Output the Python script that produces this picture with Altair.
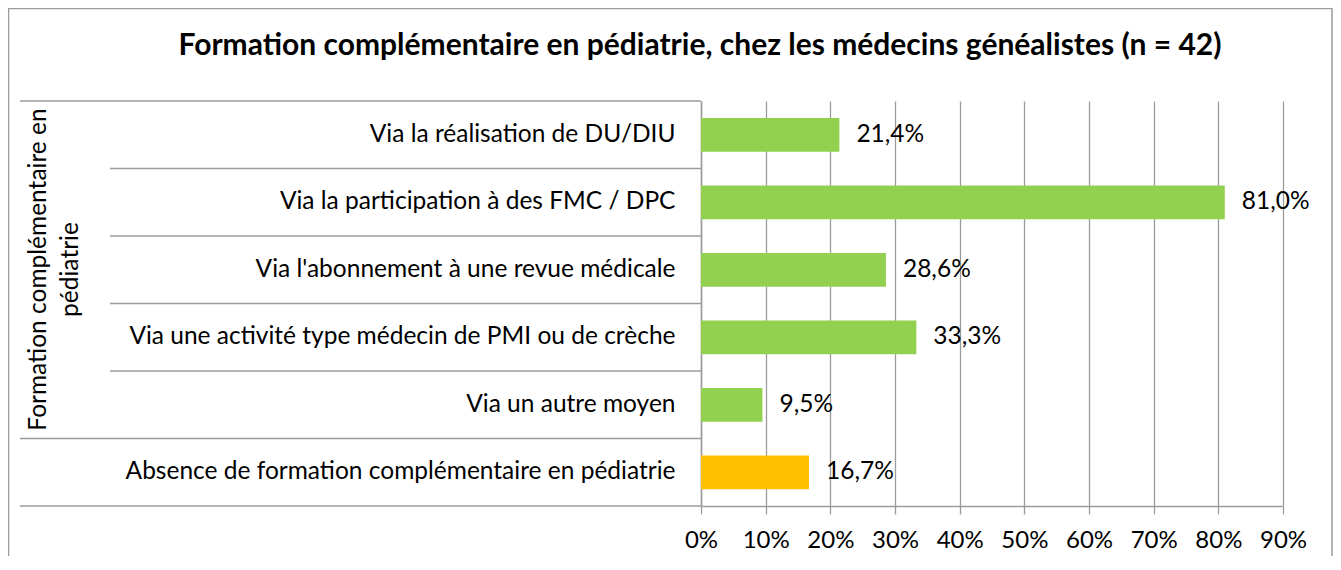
import altair as alt
import pandas as pd

# ---- data ----
categories = [
    "Via la réalisation de DU/DIU",
    "Via la participation à des FMC / DPC",
    "Via l'abonnement à une revue médicale",
    "Via une activité type médecin de PMI ou de crèche",
    "Via un autre moyen",
    "Absence de formation complémentaire en pédiatrie",
]
values = [21.4, 81.0, 28.6, 33.3, 9.5, 16.7]
groups = ["formation", "formation", "formation", "formation", "formation", "absence"]
group_label = ["Formation complémentaire en", "pédiatrie"]
x_ticks = [0, 10, 20, 30, 40, 50, 60, 70, 80, 90]
title_text = "Formation complémentaire en pédiatrie, chez les médecins généalistes (n = 42)"
outer_rows = [0, 5, 6]
inner_rows = [1, 2, 3, 4]

df = pd.DataFrame({"categorie": categories, "valeur": values, "groupe": groups})

FONT = "Lato"
FS = 24.5
GRAY = "#9C9C9C"
W, H = 582, 405

base = alt.Chart(df)

bars = base.mark_bar().encode(
    x=alt.X("valeur:Q",
            scale=alt.Scale(domain=[0, 90], nice=False),
            axis=alt.Axis(title="", values=x_ticks, labelExpr="datum.value + '%'",
                          grid=True, gridColor=GRAY, gridWidth=1.3, domainColor=GRAY,
                          domainWidth=1.5, tickColor=GRAY, tickWidth=1.3,
                          tickSize=8, labelFont=FONT, labelFontSize=24, labelColor="black",
                          labelPadding=26, labelBaseline="middle", labelFlush=False,
                          labelOverlap=False)),
    y=alt.Y("categorie:N", sort=categories,
            scale=alt.Scale(paddingInner=0.5, paddingOuter=0.25),
            axis=alt.Axis(title="", ticks=False, labelPadding=26, labelLimit=900,
                          labelFont=FONT, labelFontSize=FS, labelColor="black",
                          domainColor=GRAY, domainWidth=1.5, grid=False)),
    color=alt.Color("groupe:N",
                    scale=alt.Scale(domain=["formation", "absence"], range=["#92D050", "#FFC000"]),
                    legend=None),
)

labels = base.mark_text(align="left", baseline="middle", dx=17, font=FONT,
                        fontSize=FS, color="black").transform_calculate(
    lab="replace(format(datum.valeur, '.1f'), '.', ',') + '%'"
).encode(
    x=alt.X("valeur:Q"),
    y=alt.Y("categorie:N", sort=categories),
    text="lab:N",
)

main = alt.layer(bars, labels)

sep_scale = alt.Scale(domain=[0, 6], nice=False, zero=False, reverse=True)
sep_outer = alt.Chart(pd.DataFrame({"pos": outer_rows})).mark_rule(
    color=GRAY, strokeWidth=1.5).encode(
    y=alt.Y("pos:Q", scale=sep_scale, axis=None),
    x=alt.value(-681), x2=alt.value(0),
)
sep_inner = alt.Chart(pd.DataFrame({"pos": inner_rows})).mark_rule(
    color=GRAY, strokeWidth=1.5).encode(
    y=alt.Y("pos:Q", scale=sep_scale, axis=None),
    x=alt.value(-591), x2=alt.value(0),
)
seps = alt.layer(sep_outer, sep_inner)

one = alt.Data(values=[{"k": 1}])

border = alt.Chart(one).mark_rect(fill="transparent", stroke=GRAY, strokeWidth=1.5).encode(
    x=alt.value(-692.5), x2=alt.value(631), y=alt.value(-92.5), y2=alt.value(600)
)

title = alt.Chart(one).mark_text(text=title_text, font=FONT, fontSize=30, fontWeight="bold",
                                 align="center", baseline="middle", color="black").encode(
    x=alt.value(-1), y=alt.value(-55)
)

glabel = alt.Chart(one).mark_text(text=group_label, font=FONT, fontSize=FS, angle=270,
                                  align="center", baseline="middle", lineHeight=32,
                                  color="black").encode(
    x=alt.value(-662), y=alt.value(168.5)
)

chart = alt.layer(border, title, glabel, main, seps).resolve_scale(
    y="independent"
).properties(
    width=W, height=H,
    padding={"left": 693, "top": 93, "right": 50, "bottom": 50},
    autosize=alt.AutoSizeParams(type="none"),
).configure_view(stroke="transparent")

chart.save("out.html", embed_options={"renderer": "svg", "actions": False})
